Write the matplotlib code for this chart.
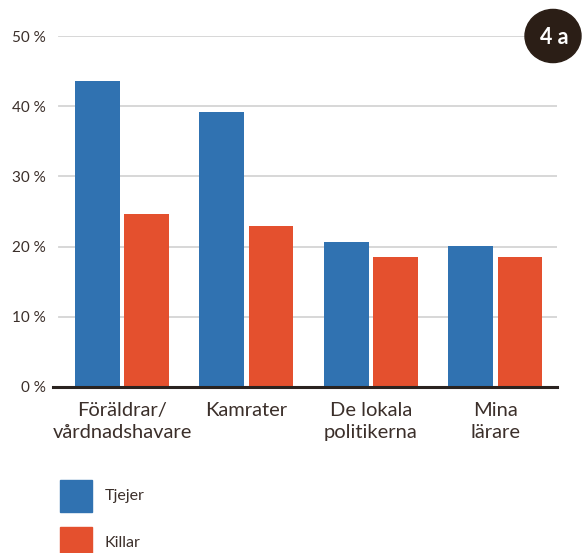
import matplotlib
matplotlib.use("Agg")
import matplotlib.pyplot as plt
from matplotlib.patches import Circle, Rectangle
import numpy as np

plt.rcParams['font.family'] = ['Lato', 'DejaVu Sans']

categories = ["Föräldrar/\nvårdnadshavare", "Kamrater", "De lokala\npolitikerna", "Mina\nlärare"]
tjejer = [43.6, 39.2, 20.7, 20.1]
killar = [24.6, 22.9, 18.5, 18.5]
yticks = [0, 10, 20, 30, 40, 50]
ytick_labels = ["0 %", "10 %", "20 %", "30 %", "40 %", "50 %"]
series_names = ["Tjejer", "Killar"]

BLUE = "#3072b1"
RED = "#e4502e"
TXT = "#3b2f2a"
W, H = 583, 553

fig = plt.figure(figsize=(W/100, H/100), dpi=100)
ax = fig.add_axes([53/W, 1-387/H, (557-53)/W, (387-36)/H])
x = np.arange(len(categories))
bw = 0.361
off = 0.197
ax.bar(x - off, tjejer, bw, color=BLUE, zorder=3)
ax.bar(x + off, killar, bw, color=RED, zorder=3)
ax.set_xlim(-0.554, 3.494)
ax.set_ylim(0, 50)
for s in ax.spines.values():
    s.set_visible(False)
for t in yticks[1:]:
    ax.axhline(t, color="#d4d4d4", lw=1.3, zorder=1, xmin=6/504, xmax=1)
ax.axhline(0, color="#2a2320", lw=2.2, zorder=4, clip_on=False)
ax.set_yticks(yticks)
ax.set_yticklabels(ytick_labels)
ax.tick_params(axis='y', length=0, pad=5, labelsize=11, labelcolor=TXT)
ax.set_xticks(x)
ax.set_xticklabels(categories, linespacing=1.35)
ax.tick_params(axis='x', length=0, pad=11, labelsize=14.5, labelcolor=TXT)

# badge
fig.patches.append(Circle((553/W, 1-36/H), 28/W, transform=fig.transFigure,
                          color="#2b1e16", zorder=5))
fig.text(554/W, 1-37/H, "4 a", color="white", fontsize=15.5, fontweight='bold',
         ha='center', va='center', zorder=6)

# legend
for i, (name, col) in enumerate(zip(series_names, [BLUE, RED])):
    y0 = 480 + i*47
    fig.patches.append(Rectangle((60/W, 1-(y0+32)/H), 32/W, 32/H,
                                 transform=fig.transFigure, color=col))
    fig.text(105/W, 1-(y0+16)/H, name, color=TXT, fontsize=11.5, va='center', ha='left')

fig.savefig("out.png", dpi=100)
